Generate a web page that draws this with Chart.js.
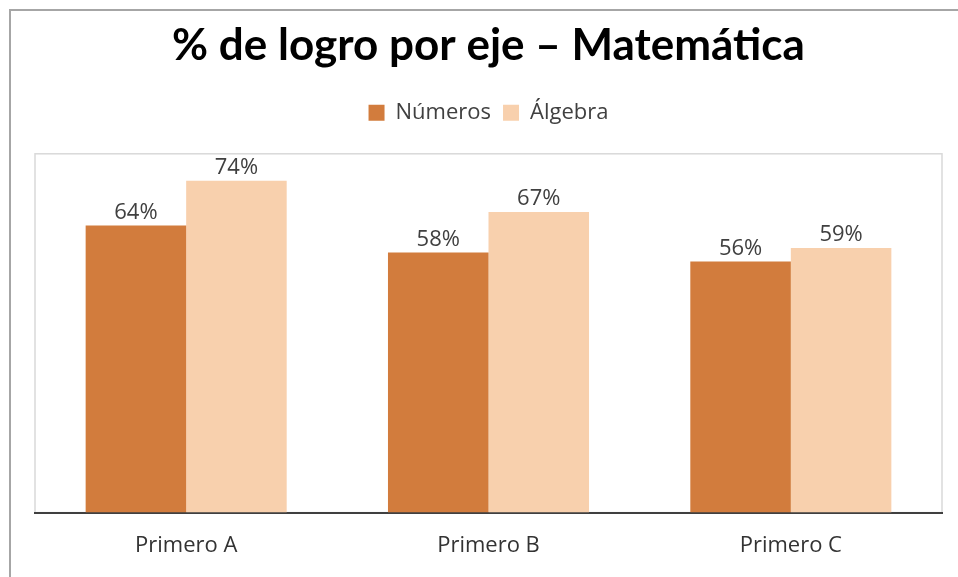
<!DOCTYPE html>
<html>
<head>
<meta charset="utf-8">
<script src="https://cdn.jsdelivr.net/npm/chart.js@4/dist/chart.umd.min.js"></script>
<style>
    html, body { margin: 0; padding: 0; background: #fff; }
    #wrap { width: 958px; height: 577px; position: relative; }
</style>
</head>
<body>
<div id="wrap"><canvas id="chart"></canvas></div>
<script>
const grupos = ['Primero A', 'Primero B', 'Primero C'];
const numeros = [64, 58, 56];
const algebra = [74, 67, 59];

// marco gris exterior + caja del area de grafico
const marco = {
    id: 'marco',
    beforeDraw(chart) {
        const ctx = chart.ctx;
        const a = chart.chartArea;
        ctx.save();
        ctx.strokeStyle = '#a6a6a6';
        ctx.lineWidth = 2;
        ctx.beginPath();
        ctx.moveTo(10, chart.height);
        ctx.lineTo(10, 10);
        ctx.lineTo(chart.width, 10);
        ctx.stroke();
        ctx.strokeStyle = '#d9d9d9';
        ctx.lineWidth = 1.5;
        ctx.strokeRect(a.left, a.top, a.right - a.left, a.bottom - a.top);
        ctx.restore();
    }
};

// mas espacio debajo de la leyenda
const espacioLeyenda = {
    id: 'espacioLeyenda',
    beforeInit(chart) {
        const fit = chart.legend.fit;
        chart.legend.fit = function() {
            fit.bind(chart.legend)();
            this.height += 20;
        };
    }
};

// etiquetas de porcentaje encima de cada barra
const etiquetas = {
    id: 'etiquetas',
    afterDatasetsDraw(chart) {
        const ctx = chart.ctx;
        ctx.save();
        ctx.font = '22px "Open Sans", sans-serif';
        ctx.fillStyle = '#404040';
        ctx.textAlign = 'center';
        ctx.textBaseline = 'bottom';
        chart.data.datasets.forEach((ds, i) => {
            chart.getDatasetMeta(i).data.forEach((bar, j) => {
                ctx.fillText(ds.data[j] + '%', bar.x, bar.y - 2);
            });
        });
        ctx.restore();
    }
};

const ctx = document.getElementById('chart').getContext('2d');
new Chart(ctx, {
    type: 'bar',
    data: {
        labels: grupos,
        datasets: [
            {
                label: 'Números',
                data: numeros,
                backgroundColor: '#d27c3d'
            },
            {
                label: 'Álgebra',
                data: algebra,
                backgroundColor: '#f8d0ad'
            }
        ]
    },
    options: {
        responsive: true,
        maintainAspectRatio: false,
        animation: false,
        layout: {
            padding: { left: 35, right: 16, top: 8, bottom: 6 }
        },
        plugins: {
            title: {
                display: true,
                text: '% de logro por eje – Matemática',
                color: '#000',
                font: { family: 'Lato', size: 44, weight: 'bold' },
                padding: { top: 11, bottom: 18 }
            },
            legend: {
                labels: {
                    boxWidth: 16,
                    boxHeight: 16,
                    color: '#404040',
                    font: { family: '"Open Sans"', size: 22 },
                    padding: 12
                }
            },
            tooltip: { enabled: false }
        },
        datasets: {
            bar: {
                categoryPercentage: 0.665,
                barPercentage: 1
            }
        },
        scales: {
            x: {
                grid: { display: false },
                border: { display: true, color: '#404040', width: 2 },
                ticks: {
                    color: '#333',
                    font: { family: '"Open Sans"', size: 22 },
                    padding: 12
                }
            },
            y: {
                display: false,
                min: 0,
                max: 80
            }
        }
    },
    plugins: [marco, espacioLeyenda, etiquetas]
});
</script>
</body>
</html>
